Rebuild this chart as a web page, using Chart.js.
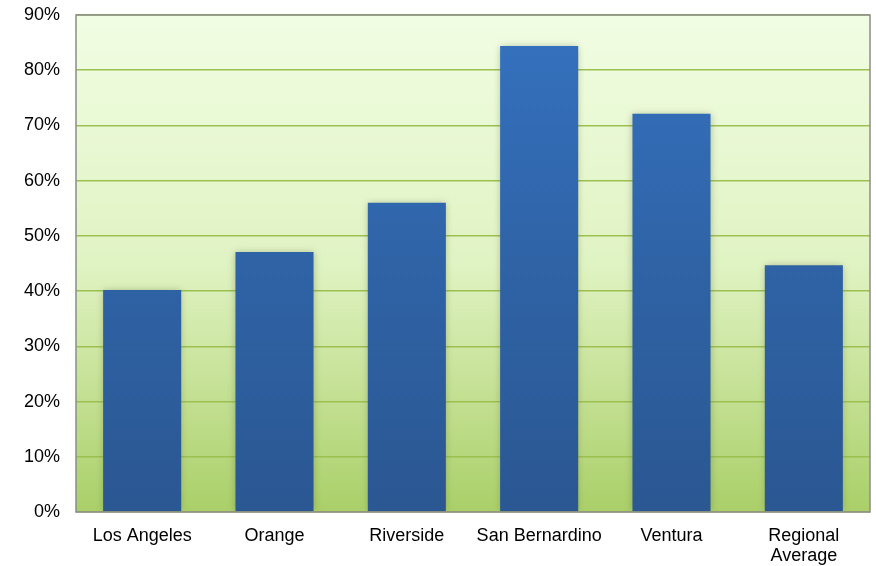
<!DOCTYPE html>
<html>
<head>
  <meta charset="utf-8">
  <title>Bar chart</title>
  <script src="https://cdn.jsdelivr.net/npm/chart.js@4/dist/chart.umd.min.js"></script>
  <style>
    html, body { margin: 0; padding: 0; background: #fff; }
    #wrap { width: 876px; height: 566px; }
  </style>
</head>
<body>
<div id="wrap"><canvas id="canvas"></canvas></div>
<script>
// data
var counties = ['Los Angeles', 'Orange', 'Riverside', 'San Bernardino', 'Ventura', ['Regional', 'Average']];
var shares = [40.2, 47.1, 56.0, 84.4, 72.1, 44.7];
var yTicks = [0, 10, 20, 30, 40, 50, 60, 70, 80, 90];

// green plot background, light at top
var plotBackground = {
  id: 'plotBackground',
  beforeDraw: function(chart) {
    var a = chart.chartArea, ctx = chart.ctx;
    var g = ctx.createLinearGradient(0, a.top, 0, a.bottom);
    g.addColorStop(0, '#f1fde3');
    g.addColorStop(0.5, '#e0f3c3');
    g.addColorStop(1, '#aacf68');
    ctx.save();
    ctx.fillStyle = g;
    ctx.fillRect(a.left, a.top, a.right - a.left, a.bottom - a.top);
    ctx.restore();
  },
  afterDraw: function(chart) {
    var a = chart.chartArea, ctx = chart.ctx;
    ctx.save();
    ctx.strokeStyle = '#8c8c8c';
    ctx.lineWidth = 1.5;
    ctx.strokeRect(a.left, a.top, a.right - a.left, a.bottom - a.top);
    ctx.restore();
  }
};

// soft shadow round the bars
var barShadow = {
  id: 'barShadow',
  beforeDatasetDraw: function(chart) {
    var ctx = chart.ctx;
    ctx.save();
    ctx.shadowColor = 'rgba(90,100,60,0.4)';
    ctx.shadowBlur = 7;
    ctx.shadowOffsetX = 0;
    ctx.shadowOffsetY = 0;
  },
  afterDatasetDraw: function(chart) {
    chart.ctx.restore();
  }
};

function barFill(context) {
  var a = context.chart.chartArea;
  if (!a) return '#2f5f9e';
  var g = context.chart.ctx.createLinearGradient(0, a.top, 0, a.bottom);
  g.addColorStop(0, '#3572c0');
  g.addColorStop(0.5, '#2f63a6');
  g.addColorStop(1, '#2b5792');
  return g;
}

var config = {
  type: 'bar',
  data: {
    labels: counties,
    datasets: [{
      data: shares,
      backgroundColor: barFill,
      borderWidth: 0,
      categoryPercentage: 1.0,
      barPercentage: 0.59
    }]
  },
  options: {
    responsive: true,
    maintainAspectRatio: false,
    animation: false,
    layout: { padding: { top: 15, right: 6, bottom: 0, left: 0 } },
    plugins: {
      legend: { display: false },
      tooltip: { enabled: false }
    },
    scales: {
      x: {
        grid: { display: false, drawTicks: false },
        border: { display: false },
        ticks: {
          color: '#000',
          font: { family: 'Liberation Sans, Arial', size: 18, lineHeight: 1.1 },
          padding: 14,
          maxRotation: 0
        },
        afterFit: function(scale) {
          scale.height = 54;
          scale.paddingLeft = 0;
          scale.paddingRight = 0;
        }
      },
      y: {
        min: 0,
        max: 90,
        afterBuildTicks: function(scale) {
          scale.ticks = yTicks.map(function(v) { return { value: v }; });
        },
        grid: { color: '#9cc04f', lineWidth: 1.5, drawTicks: false },
        border: { display: false },
        ticks: {
          color: '#000',
          font: { family: 'Liberation Sans, Arial', size: 18 },
          padding: 16,
          callback: function(v) { return v + '%'; }
        },
        afterFit: function(scale) {
          scale.width = 76;
          scale.paddingTop = 0;
          scale.paddingBottom = 0;
        }
      }
    }
  },
  plugins: [plotBackground, barShadow]
};

window.myBar = new Chart(document.getElementById('canvas'), config);
</script>
</body>
</html>
